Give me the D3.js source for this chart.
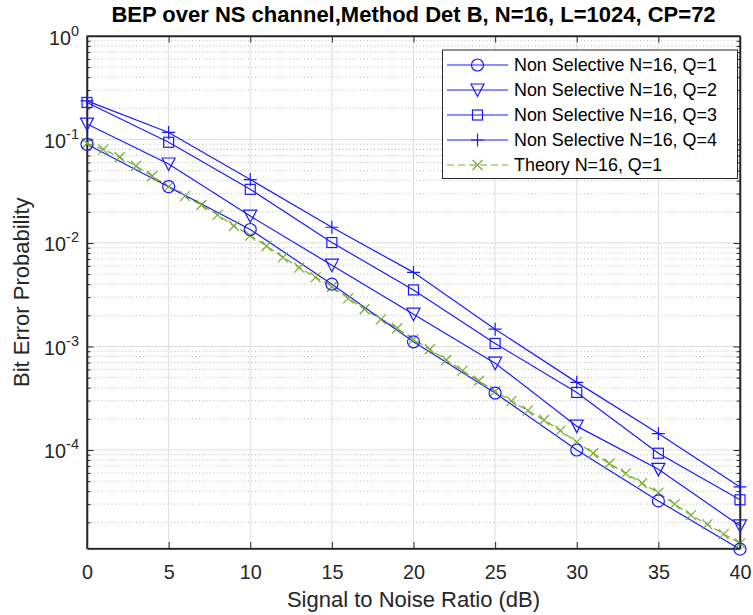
<!DOCTYPE html>
<html>
<head>
<meta charset="utf-8">
<script src="https://cdn.jsdelivr.net/npm/d3@7"></script>
<style>
  body { margin: 0; background: #fff; }
  svg { font-family: "Liberation Sans", Arial, sans-serif; }
  .axis path, .axis line { stroke: #262626; }
  .axis text { fill: #262626; }
</style>
</head>
<body>
<div class="chart"></div>
<script>
// data
var snr = [0, 5, 10, 15, 20, 25, 30, 35, 40];
var q1 = [0.09, 0.035, 0.0135, 0.004, 0.00111, 3.55e-4, 1.0e-4, 3.22e-5, 1.1e-5];
var q2 = [0.141, 0.058, 0.0182, 0.0061, 0.00205, 6.9e-4, 1.7e-4, 6.5e-5, 1.85e-5];
var q3 = [0.228, 0.094, 0.033, 0.0101, 0.00352, 0.00107, 3.6e-4, 9.3e-5, 3.3e-5];
var q4 = [0.236, 0.117, 0.041, 0.0142, 0.0052, 0.00147, 4.5e-4, 1.44e-4, 4.4e-5];
var theorySnr = d3.range(0, 41);
var theory = [0.092, 0.0804, 0.0673, 0.0554, 0.0444, 0.035, 0.0284, 0.0233, 0.0187, 0.0146,
  0.0118, 0.00935, 0.00727, 0.00578, 0.00466, 0.00378, 0.00292, 0.00229, 0.00183, 0.0015,
  0.00117, 9.4e-4, 7.4e-4, 5.84e-4, 4.67e-4, 3.7e-4, 2.97e-4, 2.4e-4, 1.95e-4, 1.54e-4,
  1.19e-4, 9.3e-5, 7.4e-5, 5.95e-5, 4.77e-5, 3.87e-5, 3.0e-5, 2.35e-5, 1.91e-5, 1.54e-5, 1.25e-5];
var xTicks = [0, 5, 10, 15, 20, 25, 30, 35, 40];
var yTicks = [1, 1e-1, 1e-2, 1e-3, 1e-4];
var yTickExp = ['0', '-1', '-2', '-3', '-4'];
var names = ['Non Selective N=16, Q=1', 'Non Selective N=16, Q=2', 'Non Selective N=16, Q=3',
  'Non Selective N=16, Q=4', 'Theory N=16, Q=1'];

var width = 753, height = 615;
var margin = {top: 36, right: 12, bottom: 66.5, left: 87};
var blue = '#1a1aff', green = '#77ac30';

var svg = d3.select('.chart')
  .append('svg')
  .attr('width', width)
  .attr('height', height);

var xScale = d3.scaleLinear()
  .domain([0, 40])
  .range([margin.left, width - margin.right - 1]);

var yScale = d3.scaleLog()
  .domain([1.117e-5, 1])
  .range([height - margin.bottom, margin.top]);

var x0 = xScale.range()[0], x1 = xScale.range()[1];
var yB = yScale.range()[0], yT = yScale.range()[1];

// minor y values
var yMinor = [];
for (var e = -5; e < 0; e++) {
  for (var m = 2; m <= 9; m++) {
    var v = m * Math.pow(10, e);
    if (v > 1.117e-5) yMinor.push(v);
  }
}

// GRID
svg.append('g').selectAll('line')
  .data(yMinor)
  .enter().append('line')
  .attr('x1', x0).attr('x2', x1)
  .attr('y1', d => yScale(d)).attr('y2', d => yScale(d))
  .attr('stroke', '#b8b8b8')
  .attr('stroke-dasharray', '1,2.5');

svg.append('g').selectAll('line')
  .data(xTicks.slice(1, -1))
  .enter().append('line')
  .attr('x1', d => xScale(d)).attr('x2', d => xScale(d))
  .attr('y1', yB).attr('y2', yT)
  .attr('stroke', '#dfdfdf');

svg.append('g').selectAll('line')
  .data(yTicks.slice(1))
  .enter().append('line')
  .attr('x1', x0).attr('x2', x1)
  .attr('y1', d => yScale(d)).attr('y2', d => yScale(d))
  .attr('stroke', '#dfdfdf');

// AXES
var xAxis = d3.axisBottom(xScale).tickValues(xTicks).tickSizeInner(-6.5).tickSizeOuter(0);
var xAxisTop = d3.axisTop(xScale).tickValues(xTicks).tickSizeInner(-6.5).tickSizeOuter(0).tickFormat('');
var yAxis = d3.axisLeft(yScale).tickValues(yTicks).tickSizeInner(-6.5).tickSizeOuter(0).tickFormat('');
var yAxisR = d3.axisRight(yScale).tickValues(yTicks).tickSizeInner(-6.5).tickSizeOuter(0).tickFormat('');
var yMinL = d3.axisLeft(yScale).tickValues(yMinor).tickSizeInner(-3.5).tickSizeOuter(0).tickFormat('');
var yMinR = d3.axisRight(yScale).tickValues(yMinor).tickSizeInner(-3.5).tickSizeOuter(0).tickFormat('');

var gx = svg.append('g').attr('class', 'axis').attr('transform', 'translate(0,' + yB + ')').call(xAxis);
gx.selectAll('text')
  .style('font-size', '19.8px')
  .attr('y', 30)
  .attr('dy', null);
svg.append('g').attr('class', 'axis').attr('transform', 'translate(0,' + yT + ')').call(xAxisTop);
svg.append('g').attr('class', 'axis').attr('transform', 'translate(' + x0 + ',0)').call(yAxis);
svg.append('g').attr('class', 'axis').attr('transform', 'translate(' + x1 + ',0)').call(yAxisR);
svg.append('g').attr('class', 'axis').attr('transform', 'translate(' + x0 + ',0)').call(yMinL);
svg.append('g').attr('class', 'axis').attr('transform', 'translate(' + x1 + ',0)').call(yMinR);
svg.selectAll('.axis path').attr('stroke-width', 1.3);

// y tick labels 10^n
var ylab = svg.append('g').attr('fill', '#262626');
yTicks.forEach(function(t, i) {
  var txt = ylab.append('text')
    .attr('x', 79)
    .attr('y', yScale(t) + 8.5)
    .attr('text-anchor', 'end');
  txt.append('tspan').style('font-size', '19.8px').text('10');
  txt.append('tspan').style('font-size', '14.5px').attr('dy', '-9').text(yTickExp[i]);
});

// frame
svg.append('rect')
  .attr('x', x0).attr('y', yT)
  .attr('width', x1 - x0).attr('height', yB - yT)
  .attr('fill', 'none').attr('stroke', '#262626').attr('stroke-width', 1.3);

// LINES
var line = d3.line()
  .x(d => xScale(d[0]))
  .y(d => yScale(d[1]));

var plot = svg.append('g');

plot.append('path')
  .datum(d3.zip(theorySnr, theory))
  .attr('d', line)
  .attr('fill', 'none')
  .attr('stroke', green)
  .attr('stroke-width', 1.2)
  .attr('stroke-dasharray', '7,4');

var series = [q1, q2, q3, q4];
series.forEach(function(s) {
  plot.append('path')
    .datum(d3.zip(snr, s))
    .attr('d', line)
    .attr('fill', 'none')
    .attr('stroke', blue)
    .attr('stroke-width', 1.2);
});

// MARKERS
function marker(g, type, x, y, color) {
  if (type === 'o') {
    g.append('circle').attr('cx', x).attr('cy', y).attr('r', 6)
      .attr('fill', 'none').attr('stroke', color).attr('stroke-width', 1.2);
  } else if (type === 'v') {
    g.append('path')
      .attr('d', 'M' + (x - 6.5) + ',' + (y - 6) + 'L' + (x + 6.5) + ',' + (y - 6) + 'L' + x + ',' + (y + 6.5) + 'Z')
      .attr('fill', 'none').attr('stroke', color).attr('stroke-width', 1.2);
  } else if (type === 's') {
    g.append('rect').attr('x', x - 5).attr('y', y - 5).attr('width', 10).attr('height', 10)
      .attr('fill', 'none').attr('stroke', color).attr('stroke-width', 1.2);
  } else if (type === '+') {
    g.append('path')
      .attr('d', 'M' + (x - 6.5) + ',' + y + 'H' + (x + 6.5) + 'M' + x + ',' + (y - 6.5) + 'V' + (y + 6.5))
      .attr('stroke', color).attr('stroke-width', 1.2);
  } else if (type === 'x') {
    g.append('path')
      .attr('d', 'M' + (x - 5) + ',' + (y - 5) + 'L' + (x + 5) + ',' + (y + 5) + 'M' + (x - 5) + ',' + (y + 5) + 'L' + (x + 5) + ',' + (y - 5))
      .attr('stroke', color).attr('stroke-width', 1.2);
  }
}

theorySnr.forEach(function(d, i) {
  marker(plot, 'x', xScale(d), yScale(theory[i]), green);
});
var types = ['o', 'v', 's', '+'];
series.forEach(function(s, k) {
  snr.forEach(function(d, i) {
    marker(plot, types[k], xScale(d), yScale(s[i]), blue);
  });
});

// LEGEND
var lg = svg.append('g');
lg.append('rect')
  .attr('x', 442.5).attr('y', 50)
  .attr('width', 295).attr('height', 128.5)
  .attr('fill', '#fff').attr('stroke', '#262626').attr('stroke-width', 1);
var legTypes = ['o', 'v', 's', '+', 'x'];
names.forEach(function(n, i) {
  var yy = 65 + i * 25;
  var col = i < 4 ? blue : green;
  lg.append('line')
    .attr('x1', 447).attr('x2', 508).attr('y1', yy).attr('y2', yy)
    .attr('stroke', col).attr('stroke-width', 1.2)
    .attr('stroke-dasharray', i < 4 ? null : '7,4');
  marker(lg, legTypes[i], 477.5, yy, col);
  lg.append('text')
    .attr('x', 514).attr('y', yy + 6.4)
    .style('font-size', '17.9px')
    .attr('fill', '#000')
    .text(n);
});

// TITLES
svg.append('text')
  .attr('x', (x0 + x1) / 2).attr('y', 22)
  .attr('text-anchor', 'middle')
  .style('font-size', '22px').style('font-weight', 'bold')
  .attr('fill', '#000')
  .text('BEP over NS channel,Method Det B, N=16, L=1024, CP=72');

svg.append('text')
  .attr('x', (x0 + x1) / 2).attr('y', 606.5)
  .attr('text-anchor', 'middle')
  .style('font-size', '22px')
  .attr('fill', '#262626')
  .text('Signal to Noise Ratio (dB)');

svg.append('text')
  .attr('transform', 'translate(29,' + ((yB + yT) / 2) + ') rotate(-90)')
  .attr('text-anchor', 'middle')
  .style('font-size', '22px')
  .attr('fill', '#262626')
  .text('Bit Error Probability');
</script>
</body>
</html>
